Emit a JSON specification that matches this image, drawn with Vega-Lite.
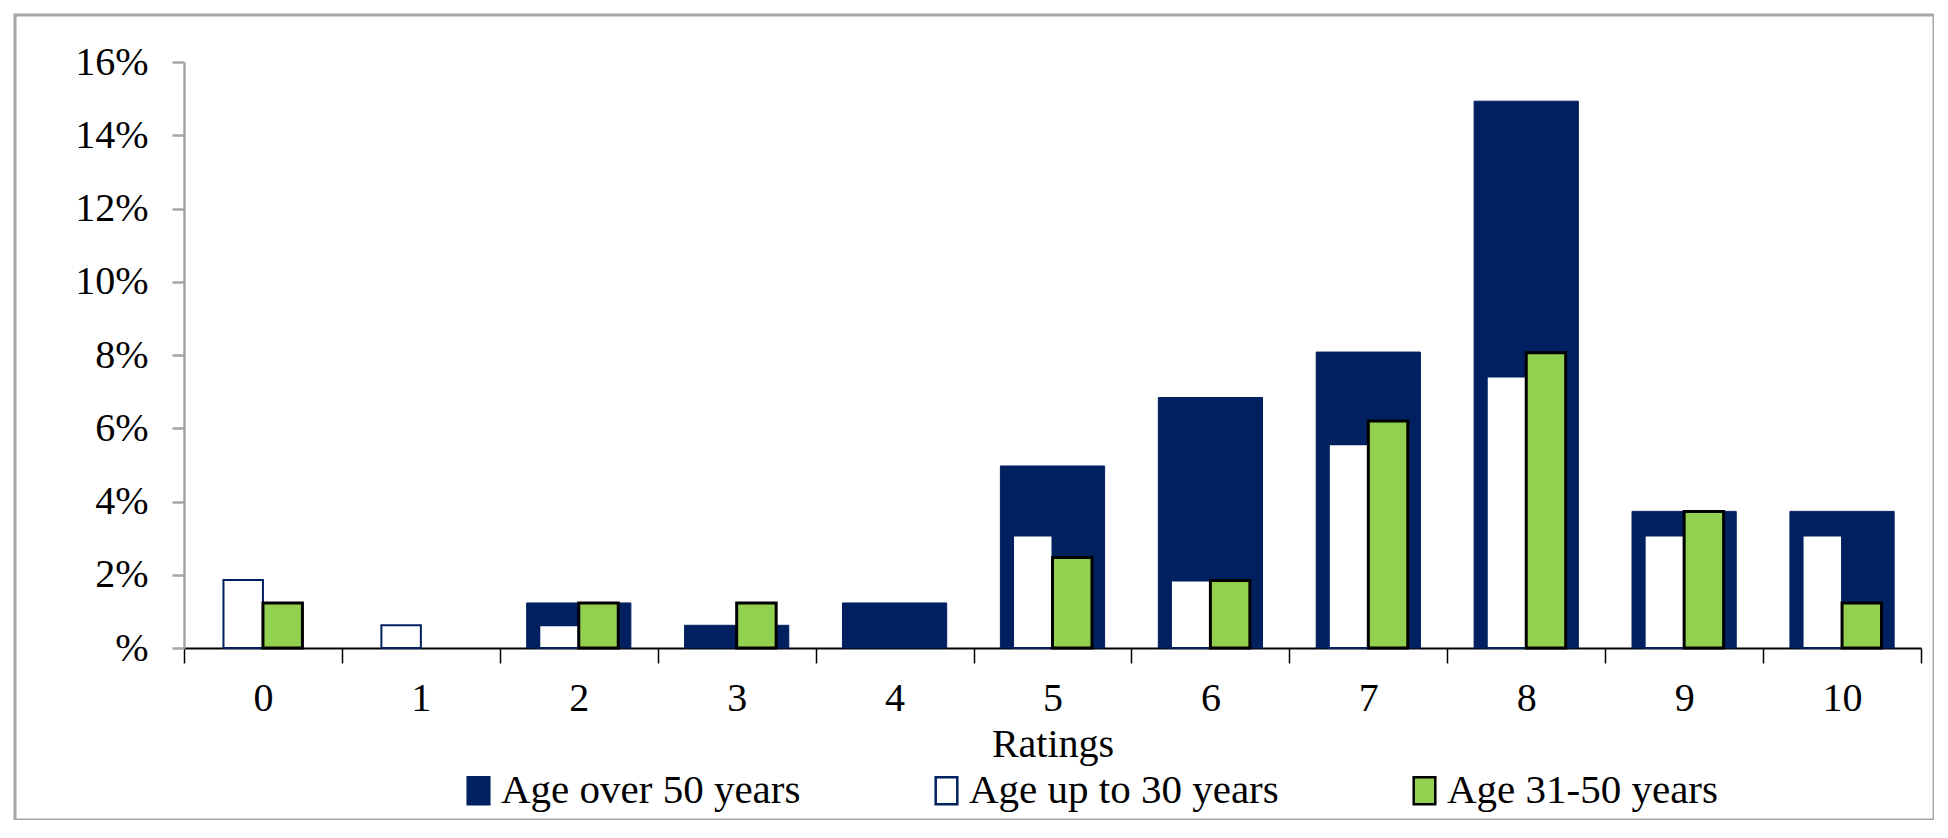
{
  "$schema": "https://vega.github.io/schema/vega-lite/v6.json",
  "width": 1919,
  "height": 805,
  "autosize": {"type": "none"},
  "padding": {"left": 15, "top": 15, "right": 0, "bottom": 0},
  "background": "white",
  "config": {
    "view": {"stroke": "#a6a6a6", "strokeWidth": 3},
    "font": "Liberation Serif"
  },
  "data": {
    "values": [
      {"rating": 0, "series": "Age over 50 years", "value": 0},
      {"rating": 1, "series": "Age over 50 years", "value": 0},
      {"rating": 2, "series": "Age over 50 years", "value": 1.23},
      {"rating": 3, "series": "Age over 50 years", "value": 0.62},
      {"rating": 4, "series": "Age over 50 years", "value": 1.23},
      {"rating": 5, "series": "Age over 50 years", "value": 4.97},
      {"rating": 6, "series": "Age over 50 years", "value": 6.84},
      {"rating": 7, "series": "Age over 50 years", "value": 8.08},
      {"rating": 8, "series": "Age over 50 years", "value": 14.93},
      {"rating": 9, "series": "Age over 50 years", "value": 3.73},
      {"rating": 10, "series": "Age over 50 years", "value": 3.73},
      {"rating": 0, "series": "Age up to 30 years", "value": 1.86},
      {"rating": 1, "series": "Age up to 30 years", "value": 0.62},
      {"rating": 2, "series": "Age up to 30 years", "value": 0.62},
      {"rating": 3, "series": "Age up to 30 years", "value": 0},
      {"rating": 4, "series": "Age up to 30 years", "value": 0},
      {"rating": 5, "series": "Age up to 30 years", "value": 3.07},
      {"rating": 6, "series": "Age up to 30 years", "value": 1.84},
      {"rating": 7, "series": "Age up to 30 years", "value": 5.56},
      {"rating": 8, "series": "Age up to 30 years", "value": 7.41},
      {"rating": 9, "series": "Age up to 30 years", "value": 3.07},
      {"rating": 10, "series": "Age up to 30 years", "value": 3.07},
      {"rating": 0, "series": "Age 31-50 years", "value": 1.23},
      {"rating": 1, "series": "Age 31-50 years", "value": 0},
      {"rating": 2, "series": "Age 31-50 years", "value": 1.23},
      {"rating": 3, "series": "Age 31-50 years", "value": 1.23},
      {"rating": 4, "series": "Age 31-50 years", "value": 0},
      {"rating": 5, "series": "Age 31-50 years", "value": 2.47},
      {"rating": 6, "series": "Age 31-50 years", "value": 1.84},
      {"rating": 7, "series": "Age 31-50 years", "value": 6.2},
      {"rating": 8, "series": "Age 31-50 years", "value": 8.06},
      {"rating": 9, "series": "Age 31-50 years", "value": 3.73},
      {"rating": 10, "series": "Age 31-50 years", "value": 1.23}
    ]
  },
  "encoding": {
    "x": {
      "field": "rating",
      "type": "ordinal",
      "scale": {"domain": [0,1,2,3,4,5,6,7,8,9,10], "range": [169, 1906], "paddingInner": 0, "paddingOuter": 0},
      "axis": {
        "orient": "bottom",
        "offset": -172,
        "domainColor": "#000000",
        "domainWidth": 2,
        "tickColor": "#000000",
        "tickWidth": 1.5,
        "tickSize": 15,
        "tickBand": "extent",
        "labelFont": "Liberation Serif",
        "labelFontSize": 40,
        "labelColor": "#000000",
        "labelPadding": 15,
        "labelAngle": 0,
        "grid": false,
        "title": "Ratings",
        "titleFont": "Liberation Serif",
        "titleFontSize": 40,
        "titleFontWeight": "normal",
        "titleColor": "#000000",
        "titlePadding": 6
      }
    },
    "y": {
      "field": "value",
      "type": "quantitative",
      "scale": {"domain": [0, 16], "range": [633, 47], "nice": false, "zero": true},
      "axis": {
        "offset": -169,
        "values": [0, 2, 4, 6, 8, 10, 12, 14, 16],
        "labelExpr": "datum.value == 0 ? '%' : datum.value + '%'",
        "domainColor": "#a6a6a6",
        "domainWidth": 2.5,
        "tickColor": "#a6a6a6",
        "tickWidth": 2.5,
        "tickSize": 12,
        "labelFont": "Liberation Serif",
        "labelFontSize": 40,
        "labelColor": "#000000",
        "labelPadding": 24,
        "grid": false,
        "title": null
      }
    },
    "fill": {
      "field": "series",
      "type": "nominal",
      "scale": {"domain": ["Age over 50 years", "Age up to 30 years", "Age 31-50 years"], "range": ["#002060", "#ffffff", "#92d050"]},
      "legend": {
        "orient": "none",
        "legendX": 443,
        "legendY": 755,
        "direction": "horizontal",
        "title": null,
        "labelFont": "Liberation Serif",
        "labelFontSize": 41,
        "labelColor": "#000000",
        "symbolType": "M-0.8,-1H0.8V1H-0.8Z",
        "symbolSize": 729,
        "symbolStrokeWidth": 2.5,
        "columnPadding": 125,
        "labelOffset": 2,
        "labelLimit": 0
      }
    },
    "stroke": {
      "field": "series",
      "type": "nominal",
      "scale": {"domain": ["Age over 50 years", "Age up to 30 years", "Age 31-50 years"], "range": ["#002060", "#002060", "#000000"]},
      "legend": {
        "orient": "none",
        "legendX": 443,
        "legendY": 755,
        "direction": "horizontal",
        "title": null,
        "labelFont": "Liberation Serif",
        "labelFontSize": 41,
        "labelColor": "#000000",
        "symbolType": "M-0.8,-1H0.8V1H-0.8Z",
        "symbolSize": 729,
        "symbolStrokeWidth": 2.5,
        "columnPadding": 125,
        "labelOffset": 2,
        "labelLimit": 0
      }
    }
  },
  "layer": [
    {
      "transform": [{"filter": "datum.series === 'Age over 50 years' && datum.value > 0"}],
      "mark": {"type": "bar", "width": {"band": 0.66}, "strokeWidth": 1}
    },
    {
      "transform": [{"filter": "datum.series === 'Age up to 30 years' && datum.value > 0"}],
      "mark": {"type": "bar", "strokeWidth": 2},
      "encoding": {
        "xOffset": {
          "field": "series",
          "type": "nominal",
          "scale": {"domain": ["Age up to 30 years", "Age 31-50 years"], "paddingInner": 0, "paddingOuter": 1.975}
        }
      }
    },
    {
      "transform": [{"filter": "datum.series === 'Age 31-50 years' && datum.value > 0"}],
      "mark": {"type": "bar", "strokeWidth": 3},
      "encoding": {
        "xOffset": {
          "field": "series",
          "type": "nominal",
          "scale": {"domain": ["Age up to 30 years", "Age 31-50 years"], "paddingInner": 0, "paddingOuter": 1.975}
        }
      }
    }
  ]
}
